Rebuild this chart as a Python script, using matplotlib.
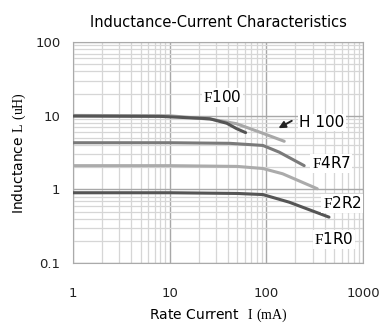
import matplotlib
matplotlib.use("Agg")
import matplotlib.pyplot as plt
from matplotlib.ticker import LogLocator, FixedLocator, NullFormatter

plt.rcParams['mathtext.fontset'] = 'custom'
plt.rcParams['mathtext.rm'] = 'Liberation Serif'
plt.rcParams['font.family'] = ['DejaVu Sans']

# Data
f100_x = [1, 8, 26, 39, 49, 61]
f100_y = [9.9, 9.8, 9.1, 7.9, 6.7, 5.9]
h100_x = [1, 10, 28, 49, 85, 153]
h100_y = [10.1, 10.0, 8.9, 7.8, 6.0, 4.5]
f4r7_x = [1, 10, 42, 92, 136, 246]
f4r7_y = [4.3, 4.3, 4.22, 3.95, 3.2, 2.1]
f2r2_x = [1, 10, 50, 92, 147, 336]
f2r2_y = [2.1, 2.1, 2.05, 1.92, 1.63, 1.02]
f1r0_x = [1, 10, 50, 92, 172, 444]
f1r0_y = [0.9, 0.9, 0.88, 0.85, 0.67, 0.42]

x_ticks = [1, 10, 100, 1000]
x_labels = ["1", "10", "100", "1000"]
y_ticks = [0.1, 1, 10, 100]
y_labels = ["0.1", "1", "10", "100"]

fig = plt.figure(figsize=(3.9, 3.29), dpi=100)
ax = fig.add_axes([0.187, 0.2006, 0.744, 0.6714])
ax.set_xscale('log')
ax.set_yscale('log')
ax.set_xlim(1, 1000)
ax.set_ylim(0.1, 100)

ax.xaxis.set_major_locator(FixedLocator(x_ticks))
ax.set_xticklabels(x_labels)
ax.yaxis.set_major_locator(FixedLocator(y_ticks))
ax.set_yticklabels(y_labels)
ax.xaxis.set_minor_locator(LogLocator(base=10, subs=range(2, 10)))
ax.yaxis.set_minor_locator(LogLocator(base=10, subs=range(2, 10)))
ax.xaxis.set_minor_formatter(NullFormatter())
ax.yaxis.set_minor_formatter(NullFormatter())

ax.grid(True, which='minor', color='#d6d6d6', linewidth=0.9)
ax.grid(True, which='major', color='#a8a8a8', linewidth=1.0)
ax.tick_params(which='both', length=0, labelsize=9.5, labelcolor='#222222')
ax.tick_params(axis='x', pad=17)
ax.tick_params(axis='y', pad=9)
for s in ax.spines.values():
    s.set_color('#aaaaaa')
    s.set_linewidth(0.8)

lw = 2.2
ax.plot(h100_x, h100_y, color='#a8a8a8', lw=lw, solid_capstyle='round', solid_joinstyle='round', zorder=3)
ax.plot(f100_x, f100_y, color='#555555', lw=lw, solid_capstyle='round', solid_joinstyle='round', zorder=4)
ax.plot(f4r7_x, f4r7_y, color='#7a7a7a', lw=lw, solid_capstyle='round', solid_joinstyle='round', zorder=3)
ax.plot(f2r2_x, f2r2_y, color='#ababab', lw=lw, solid_capstyle='round', solid_joinstyle='round', zorder=3)
ax.plot(f1r0_x, f1r0_y, color='#555555', lw=lw, solid_capstyle='round', solid_joinstyle='round', zorder=3)

box = dict(facecolor='white', edgecolor='none', pad=1.0)
fs = 11
ax.text(35, 17.7, r"$\mathrm{F}$100", fontsize=fs, ha='center', va='center', bbox=box, zorder=5)
ax.text(219, 8.1, "H 100", fontsize=fs, ha='left', va='center', bbox=box, zorder=5)
ax.annotate("", xy=(126, 6.5), xytext=(194, 8.9),
            arrowprops=dict(arrowstyle='-|>', color='#222222', lw=1.4, mutation_scale=10), zorder=5)
ax.text(468, 2.25, r"$\mathrm{F}$4R7", fontsize=fs, ha='center', va='center', bbox=box, zorder=5)
ax.text(605, 0.65, r"$\mathrm{F}$2R2", fontsize=fs, ha='center', va='center', bbox=box, zorder=5)
ax.text(500, 0.21, r"$\mathrm{F}$1R0", fontsize=fs, ha='center', va='center', bbox=box, zorder=5)

ax.set_title("Inductance-Current Characteristics", fontsize=10.5, pad=11)
ax.set_xlabel(r"Rate Current  $\mathrm{I\ (mA)}$", fontsize=10, labelpad=5)
ax.set_ylabel(r"Inductance $\mathrm{L\ (uH)}$", fontsize=10, labelpad=5)

fig.savefig("out.png", dpi=100)
